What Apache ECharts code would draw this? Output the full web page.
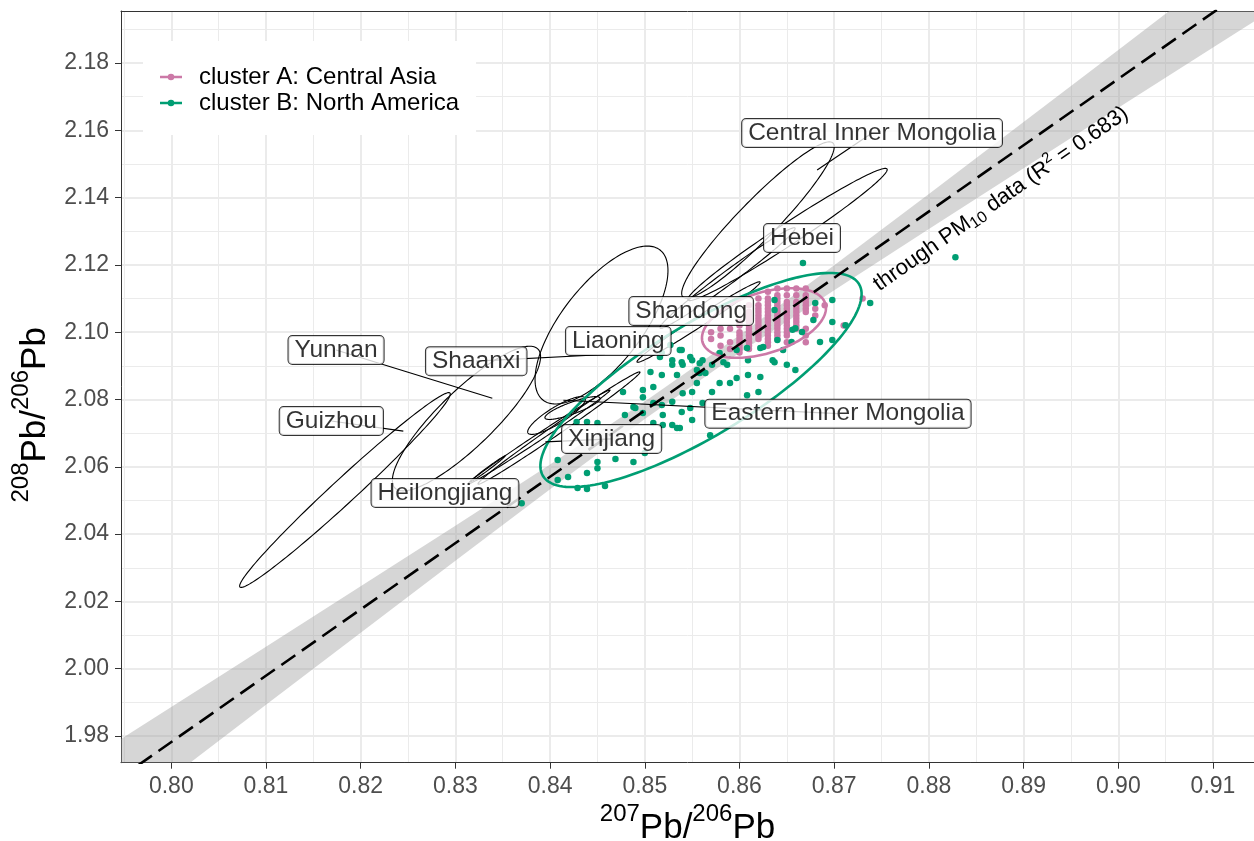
<!DOCTYPE html>
<html><head><meta charset="utf-8">
<script src="https://cdn.jsdelivr.net/npm/echarts@6/dist/echarts.min.js"></script>
<style>html,body{margin:0;padding:0;background:#fff}#c{width:1254px;height:841px}</style>
</head><body><div id="c"></div>
<script>
const FONT = '"Liberation Sans", Arial, Helvetica, sans-serif';

// axis ticks
const xTicks = [0.80,0.81,0.82,0.83,0.84,0.85,0.86,0.87,0.88,0.89,0.90,0.91];
const xMinor = [0.795,0.805,0.815,0.825,0.835,0.845,0.855,0.865,0.875,0.885,0.895,0.905];
const yTicks = [1.98,2.00,2.02,2.04,2.06,2.08,2.10,2.12,2.14,2.16,2.18];
const yMinor = [1.99,2.01,2.03,2.05,2.07,2.09,2.11,2.13,2.15,2.17,2.19];
const X_MIN = 0.79469, X_MAX = 0.91433, Y_MIN = 1.97207, Y_MAX = 2.19546;

// regression line and confidence band
const regX = [0.79, 0.92];
const regY = [1.9585, 2.2147];
const bandX = [0.79,0.80,0.81,0.82,0.83,0.84,0.85,0.86,0.87,0.88,0.89,0.90,0.91,0.92];
const bandLower = [1.9463,1.9678,1.9893,2.0107,2.0321,2.0533,2.0742,2.0939,2.1125,2.1307,2.1487,2.1667,2.1846,2.2025];
const bandUpper = [1.9707,1.9886,2.0065,2.0245,2.0425,2.0607,2.0794,2.0991,2.1199,2.1411,2.1625,2.1839,2.2054,2.2269];

// cluster A (Central Asia) points
const clusterA = [
[0.857,2.098],[0.857,2.100],
[0.858,2.096],[0.858,2.099],[0.858,2.101],
[0.859,2.095],[0.859,2.097],[0.859,2.101],
[0.860,2.094],[0.860,2.095],[0.860,2.096],[0.860,2.097],[0.860,2.098],[0.860,2.099],[0.860,2.100],[0.860,2.102],[0.860,2.103],
[0.861,2.095],[0.861,2.096],[0.861,2.097],[0.861,2.098],[0.861,2.099],[0.861,2.100],[0.861,2.101],[0.861,2.102],[0.861,2.103],[0.861,2.104],[0.861,2.105],[0.861,2.106],[0.861,2.108],
[0.862,2.098],[0.862,2.099],[0.862,2.100],[0.862,2.101],[0.862,2.102],[0.862,2.103],[0.862,2.104],[0.862,2.105],[0.862,2.106],[0.862,2.107],[0.862,2.108],[0.862,2.110],
[0.863,2.096],[0.863,2.097],[0.863,2.098],[0.863,2.099],[0.863,2.100],[0.863,2.101],[0.863,2.102],[0.863,2.103],[0.863,2.104],[0.863,2.105],[0.863,2.106],[0.863,2.107],[0.863,2.108],[0.863,2.109],[0.863,2.110],[0.863,2.112],
[0.864,2.098],[0.864,2.099],[0.864,2.100],[0.864,2.101],[0.864,2.102],[0.864,2.103],[0.864,2.104],[0.864,2.105],[0.864,2.106],[0.864,2.107],[0.864,2.108],[0.864,2.109],[0.864,2.110],[0.864,2.111],[0.864,2.113],
[0.865,2.097],[0.865,2.099],[0.865,2.100],[0.865,2.101],[0.865,2.102],[0.865,2.103],[0.865,2.104],[0.865,2.105],[0.865,2.106],[0.865,2.107],[0.865,2.108],[0.865,2.109],[0.865,2.111],[0.865,2.113],
[0.866,2.101],[0.866,2.102],[0.866,2.103],[0.866,2.104],[0.866,2.105],[0.866,2.106],[0.866,2.107],[0.866,2.108],[0.866,2.109],[0.866,2.111],[0.866,2.113],
[0.867,2.097],[0.867,2.099],[0.867,2.101],[0.867,2.106],[0.867,2.107],[0.867,2.108],[0.867,2.109],[0.867,2.110],[0.867,2.111],[0.867,2.113],
[0.868,2.105],[0.868,2.107],
[0.869,2.108],
[0.871,2.102],
[0.873,2.110]
];

// cluster B (North America) points
const clusterB = [
[0.8828,2.1223],[0.8667,2.1206],[0.8738,2.1087],[0.8698,2.1096],[0.8637,2.1096],[0.8680,2.1087],[0.8637,2.1066],
[0.8678,2.1036],[0.8698,2.1030],[0.8712,2.1021],[0.8656,2.1007],[0.8659,2.1012],[0.8666,2.1001],
[0.8685,2.0971],[0.8698,2.0977],[0.8640,2.0977],[0.8655,2.0971],[0.8646,2.0947],[0.8625,2.0956],
[0.8659,2.0888],[0.8637,2.0911],[0.8650,2.0903],[0.8635,2.0917],[0.8609,2.0917],[0.8622,2.0867],[0.8609,2.0873],
[0.8597,2.0864],[0.8587,2.0903],[0.8579,2.0849],[0.8590,2.0849],[0.8561,2.0917],[0.8564,2.0879],[0.8555,2.0888],
[0.8539,2.0947],[0.8539,2.0911],[0.8550,2.0917],[0.8534,2.0873],[0.8529,2.0917],[0.8518,2.0938],[0.8518,2.0873],
[0.8506,2.0882],[0.8509,2.0837],[0.8498,2.0828],[0.8498,2.0807],[0.8488,2.0778],[0.8477,2.0822],[0.8479,2.0754],
[0.8498,2.0760],[0.8509,2.0790],[0.8518,2.0784],[0.8519,2.0754],[0.8529,2.0793],[0.8540,2.0819],[0.8539,2.0763],
[0.8550,2.0822],[0.8550,2.0739],[0.8555,2.0849],[0.8561,2.0790],[0.8571,2.0822],[0.8608,2.0813],[0.8620,2.0822],
[0.8534,2.0715],[0.8490,2.0775],[0.8509,2.0730],[0.8519,2.0724],[0.8529,2.0724],[0.8537,2.0715],[0.8548,2.0775],
[0.8569,2.0694],[0.8439,2.0733],[0.8450,2.0730],[0.8428,2.0733],[0.8408,2.0620],[0.8450,2.0614],[0.8450,2.0596],
[0.8439,2.0582],[0.8469,2.0623],[0.8488,2.0614],[0.8408,2.0561],[0.8419,2.0570],[0.8439,2.0534],[0.8458,2.0543],
[0.8370,2.0492],[0.8500,2.0641],[0.8429,2.0537],
[0.8537,2.0947],[0.8516,2.0926],[0.8529,2.0903],[0.8540,2.0903],[0.8548,2.0926],[0.8558,2.0908],[0.8558,2.0879],
[0.8571,2.0903],[0.8579,2.0938],[0.8583,2.0911],[0.8597,2.0947],[0.8608,2.0953],[0.8622,2.0953],[0.8527,2.0962]
];

// cluster ellipses: [x1, y1, x2, y2, minor/major] (ends of the major axis)
const ellipseA = [[0.85611,2.09694,0.86906,2.10853,0.47]];
const ellipseB = [[0.83925,2.05727,0.87262,2.11432,0.30]];

// province ellipses: [x1, y1, x2, y2, minor/major]
const provEllipses = [
[0.80725,2.02428,0.82943,2.08193,0.085],
[0.82362,2.05370,0.83872,2.09500,0.28],
[0.83925,2.07985,0.85161,2.12443,0.42],
[0.85403,2.11046,0.86987,2.15623,0.18],
[0.85456,2.10957,0.87558,2.14850,0.09],
[0.85161,2.10125,0.86586,2.13097,0.08],
[0.84918,2.09114,0.86217,2.11492,0.07],
[0.83133,2.05489,0.84633,2.08282,0.04],
[0.83239,2.05489,0.84949,2.08817,0.05],
[0.83767,2.07004,0.84369,2.08045,0.25],
[0.83946,2.07450,0.84527,2.08045,0.20],
[0.83154,2.05548,0.83524,2.06321,0.06]
];

// province labels
const labelNames = ['Central Inner Mongolia','Hebei','Shandong','Liaoning','Yunnan','Shaanxi','Eastern Inner Mongolia','Guizhou','Xinjiang','Heilongjiang'];
const labelX = [0.8740,0.8666,0.8549,0.8472,0.8174,0.8322,0.8704,0.8169,0.8465,0.8289];
const labelY = [2.1592,2.1280,2.1063,2.0974,2.0947,2.0914,2.0758,2.0736,2.0683,2.0522];

// leader lines: label -> point
const leaderNames = ['Central Inner Mongolia','Yunnan','Shaanxi','Eastern Inner Mongolia','Guizhou','Xinjiang'];
const leaderX = [0.8682,0.8339,0.8458,0.8414,0.8245,0.8395];
const leaderY = [2.1482,2.0804,2.0934,2.0798,2.0706,2.0674];

// regression annotation anchor
const annX = 0.8876, annY = 2.1396;

const PINK = '#CC79A7', GREEN = '#009E73';

function ellipseRenderer(color, width) {
  return function (params, api) {
    const p1 = api.coord([api.value(0), api.value(1)]);
    const p2 = api.coord([api.value(2), api.value(3)]);
    const ratio = api.value(4);
    const cx = (p1[0] + p2[0]) / 2, cy = (p1[1] + p2[1]) / 2;
    const dx = (p2[0] - p1[0]) / 2, dy = (p2[1] - p1[1]) / 2;
    const a = Math.hypot(dx, dy);
    const ux = dx / a, uy = dy / a;
    const b = ratio * a;
    const pts = [];
    for (let i = 0; i < 160; i++) {
      const t = i / 160 * Math.PI * 2;
      const c = Math.cos(t), s = Math.sin(t);
      pts.push([cx + a * c * ux - b * s * uy, cy + a * c * uy + b * s * ux]);
    }
    return {type: 'polygon', shape: {points: pts}, style: {fill: 'none', stroke: color, lineWidth: width}, silent: true};
  };
}

// Sutherland-Hodgman clip of a polygon to a rectangle
function clipPoly(pts, x0, y0, x1, y1) {
  const edges = [
    [p => p[0] >= x0, (a, b) => { const t = (x0 - a[0]) / (b[0] - a[0]); return [x0, a[1] + t * (b[1] - a[1])]; }],
    [p => p[0] <= x1, (a, b) => { const t = (x1 - a[0]) / (b[0] - a[0]); return [x1, a[1] + t * (b[1] - a[1])]; }],
    [p => p[1] >= y0, (a, b) => { const t = (y0 - a[1]) / (b[1] - a[1]); return [a[0] + t * (b[0] - a[0]), y0]; }],
    [p => p[1] <= y1, (a, b) => { const t = (y1 - a[1]) / (b[1] - a[1]); return [a[0] + t * (b[0] - a[0]), y1]; }]
  ];
  let out = pts;
  for (const [inside, inter] of edges) {
    const inp = out; out = [];
    for (let i = 0; i < inp.length; i++) {
      const cur = inp[i], prev = inp[(i + inp.length - 1) % inp.length];
      if (inside(cur)) { if (!inside(prev)) out.push(inter(prev, cur)); out.push(cur); }
      else if (inside(prev)) out.push(inter(prev, cur));
    }
    if (!out.length) break;
  }
  return out;
}

const labelIndex = {};
labelNames.forEach((n, i) => labelIndex[n] = i);
const leaderData = leaderNames.map((n, i) => [labelX[labelIndex[n]], labelY[labelIndex[n]], leaderX[i], leaderY[i]]);
const bandRows = bandX.map((x, i) => [x, bandLower[i], bandUpper[i]]);

const chart = echarts.init(document.getElementById('c'));
const axisLineStyle = {show: true, lineStyle: {color: '#333', width: 1}};
const option = {
  animation: false,
  backgroundColor: '#fff',
  textStyle: {fontFamily: FONT},
  grid: {left: 121, top: 11, width: 1133, height: 751.7, outerBoundsMode: 'none', containLabel: false,
         show: true, borderWidth: 0, backgroundColor: '#fff'},
  legend: {
    left: 143, top: 41, orient: 'vertical', backgroundColor: '#fff',
    padding: [24, 17, 20, 17], itemWidth: 22, itemHeight: 6.6, itemGap: 2,
    selectedMode: false,
    icon: 'path://M0,2L22,2L22,4.6L0,4.6Z M14.3,3.3A3.3,3.3,0,1,1,7.7,3.3A3.3,3.3,0,1,1,14.3,3.3Z',
    textStyle: {fontSize: 24, color: '#000', fontFamily: FONT, padding: [0, 0, 0, 12]},
    data: ['cluster A: Central Asia', 'cluster B: North America']
  },
  xAxis: [{
    type: 'value', min: X_MIN, max: X_MAX, gridIndex: 0, position: 'bottom',
    axisLine: axisLineStyle,
    axisTick: {show: true, customValues: xTicks, length: 6, lineStyle: {color: '#333', width: 1}},
    axisLabel: {customValues: xTicks, formatter: v => v.toFixed(2), fontSize: 23, color: '#4D4D4D', margin: 12, fontFamily: FONT},
    splitLine: {show: true, lineStyle: {color: '#EBEBEB', width: 2}},
    name: '{s|207}{n|Pb/}{s|206}{n|Pb}', nameLocation: 'middle', nameGap: 16,
    nameTextStyle: {rich: {
      n: {fontSize: 35, color: '#000', fontFamily: FONT},
      s: {fontSize: 24, color: '#000', fontFamily: FONT, padding: [0, 0, 28, 0]}
    }}
  }, {
    type: 'value', min: X_MIN, max: X_MAX, gridIndex: 0, position: 'top',
    axisLine: axisLineStyle,
    axisTick: {show: false, customValues: xMinor},
    axisLabel: {show: false, customValues: xMinor},
    splitLine: {show: true, lineStyle: {color: '#EBEBEB', width: 1}}
  }],
  yAxis: [{
    type: 'value', min: Y_MIN, max: Y_MAX, gridIndex: 0, position: 'left',
    axisLine: axisLineStyle,
    axisTick: {show: true, customValues: yTicks, length: 6, lineStyle: {color: '#333', width: 1}},
    axisLabel: {customValues: yTicks, formatter: v => v.toFixed(2), fontSize: 23, color: '#4D4D4D', margin: 12, fontFamily: FONT},
    splitLine: {show: true, lineStyle: {color: '#EBEBEB', width: 2}},
    name: '{s|208}{n|Pb/}{s|206}{n|Pb}', nameLocation: 'middle', nameGap: 48, nameRotate: 90,
    nameTextStyle: {padding: [0, 56, 0, 0], rich: {
      n: {fontSize: 35, color: '#000', fontFamily: FONT},
      s: {fontSize: 24, color: '#000', fontFamily: FONT, padding: [0, 0, 28, 0]}
    }}
  }, {
    type: 'value', min: Y_MIN, max: Y_MAX, gridIndex: 0, position: 'right',
    axisLine: {show: false},
    axisTick: {show: false, customValues: yMinor},
    axisLabel: {show: false, customValues: yMinor},
    splitLine: {show: true, lineStyle: {color: '#EBEBEB', width: 1}}
  }],
  series: [
    {type: 'custom', name: 'band', z: 1, silent: true, encode: {x: 0, y: [1, 2]},
     renderItem: function (params, api) {
       if (params.dataIndex !== 0) return null;
       const up = bandRows.map(r => api.coord([r[0], r[2]]));
       const lo = bandRows.map(r => api.coord([r[0], r[1]])).reverse();
       const cs = params.coordSys;
       const pts = clipPoly(up.concat(lo), cs.x, cs.y, cs.x + cs.width, cs.y + cs.height);
       return {type: 'polygon', shape: {points: pts}, style: {fill: 'rgba(153,153,153,0.4)', stroke: 'none'}};
     }, data: bandRows},
    {type: 'custom', name: 'provinces', renderItem: ellipseRenderer('#000', 1.1), data: provEllipses, z: 2,
     encode: {x: [0, 2], y: [1, 3]}, silent: true},
    {type: 'scatter', name: 'cluster A: Central Asia', data: clusterA, symbolSize: 6.5, z: 3,
     itemStyle: {color: PINK, opacity: 1}},
    {type: 'scatter', name: 'cluster B: North America', data: clusterB, symbolSize: 6.5, z: 3,
     itemStyle: {color: GREEN, opacity: 1}},
    {type: 'custom', name: 'ellipseA', renderItem: ellipseRenderer(PINK, 2.6), data: ellipseA, z: 4,
     encode: {x: [0, 2], y: [1, 3]}, silent: true},
    {type: 'custom', name: 'ellipseB', renderItem: ellipseRenderer(GREEN, 2.6), data: ellipseB, z: 4,
     encode: {x: [0, 2], y: [1, 3]}, silent: true},
    {type: 'line', name: 'fit', symbol: 'none', silent: true, z: 5,
     lineStyle: {color: '#000', width: 2.6, type: [17, 8]}, data: regX.map((x, i) => [x, regY[i]])},
    {type: 'custom', name: 'leaders', z: 6, silent: true, encode: {x: [0, 2], y: [1, 3]},
     renderItem: function (params, api) {
       const a = api.coord([api.value(0), api.value(1)]);
       const b = api.coord([api.value(2), api.value(3)]);
       return {type: 'line', shape: {x1: a[0], y1: a[1], x2: b[0], y2: b[1]}, style: {stroke: '#000', lineWidth: 1.1}};
     }, data: leaderData},
    {type: 'scatter', name: 'labels', symbolSize: 1, z: 7, silent: true,
     itemStyle: {color: 'rgba(0,0,0,0)'},
     label: {show: true, position: 'inside', formatter: '{b}', fontFamily: FONT, fontSize: 24.5, color: '#000',
             backgroundColor: '#fff', borderColor: '#000', borderWidth: 1, borderRadius: 4, padding: [2, 6, 1, 6]},
     data: labelNames.map((n, i) => ({name: n, value: [labelX[i], labelY[i]]}))},
    {type: 'custom', name: 'annotation', z: 7, silent: true,
     renderItem: function (params, api) {
       const p = api.coord([api.value(0), api.value(1)]);
       const a = api.coord([regX[0], regY[0]]);
       const b = api.coord([regX[1], regY[1]]);
       const ang = Math.atan2(a[1] - b[1], b[0] - a[0]);
       return {type: 'text', x: p[0], y: p[1], rotation: ang,
         style: {text: '{n|through PM}{b|10}{n| data (R}{p|2}{n| = 0.683)}', align: 'center', verticalAlign: 'middle',
           rich: {
             n: {fontSize: 22, fontFamily: FONT, fill: '#000'},
             b: {fontSize: 16, fontFamily: FONT, fill: '#000', padding: [10, 0, 0, 0]},
             p: {fontSize: 15, fontFamily: FONT, fill: '#000', padding: [0, 0, 14, 0]}
           }}};
     }, data: [[annX, annY]]}
  ]
};
chart.setOption(option);
</script>
</body></html>
